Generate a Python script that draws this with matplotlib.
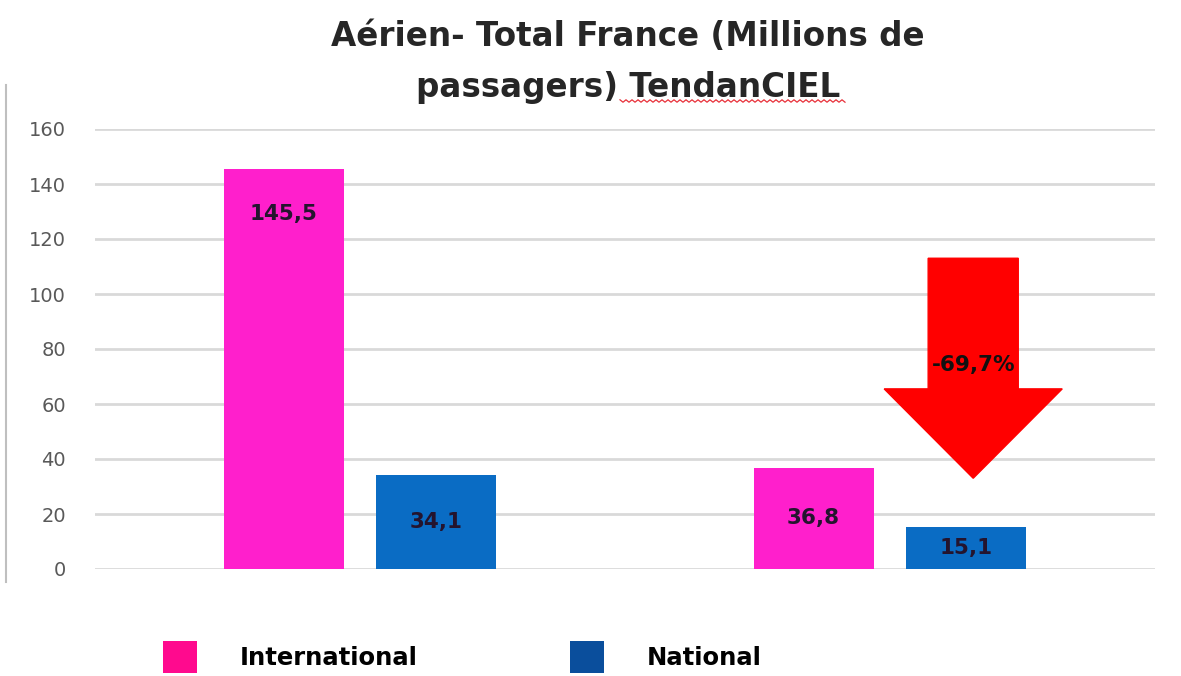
import numpy as np
import matplotlib
matplotlib.use("Agg")
import matplotlib.pyplot as plt
from matplotlib.patches import Patch, Polygon
from matplotlib.lines import Line2D

# ---- data ----
groups = ["2019", "2020"]
series = ["International", "National"]
international = [145.5, 36.8]
national = [34.1, 15.1]
value_labels_intl = ["145,5", "36,8"]
value_labels_nat = ["34,1", "15,1"]
change_label = "-69,7%"
yticks = [0, 20, 40, 60, 80, 100, 120, 140, 160]
title = "Aérien- Total France (Millions de\npassagers) TendanCIEL"

bar_colors = ["#FF1FCC", "#0A6CC4"]
legend_colors = ["#FF0A8E", "#0A4E9C"]

plt.rcParams["font.family"] = ["DejaVu Sans"]

fig = plt.figure(figsize=(11.81, 6.76), dpi=100)
ax = fig.add_axes([95 / 1181, 107 / 676, 1060 / 1181, 440 / 676])

x = np.arange(len(groups))
w = 0.226
off = 0.144
b1 = ax.bar(x - off, international, w, color=bar_colors[0], zorder=3)
b2 = ax.bar(x + off, national, w, color=bar_colors[1], zorder=3)

def lab_y(v):
    return v - 16.5 if v > 100 else v / 2

for bars, vals, labs in [(b1, international, value_labels_intl), (b2, national, value_labels_nat)]:
    for r, v, t in zip(bars, vals, labs):
        ax.text(r.get_x() + r.get_width() / 2, lab_y(v), t, ha="center", va="center",
                fontsize=15.5, fontweight="bold", color="#24142E", zorder=5)

ax.set_xlim(-0.5, 1.5)
ax.set_ylim(0, 160)
ax.set_yticks(yticks)
ax.set_yticklabels([str(t) for t in yticks], fontsize=14, color="#595959")
ax.tick_params(axis="y", length=0, pad=21)
ax.set_xticks([])
ax.grid(axis="y", color="#D9D9D9", linewidth=2, zorder=0)
for s in ax.spines.values():
    s.set_visible(False)

# red down arrow (annotation shape)
cx = 1.157
shaft_hw, head_hw = 0.085, 0.168
top, head_base, tip = 113, 65.5, 33
arrow = Polygon([(cx - shaft_hw, top), (cx + shaft_hw, top), (cx + shaft_hw, head_base),
                 (cx + head_hw, head_base), (cx, tip), (cx - head_hw, head_base),
                 (cx - shaft_hw, head_base)], closed=True, color="#FF0000", zorder=4,
                clip_on=False)
ax.add_patch(arrow)
ax.text(cx, 74, change_label, ha="center", va="center", fontsize=15.5, fontweight="bold",
        color="#111111", zorder=6)

# title
fig.text(628 / 1181, 1 - 62 / 676, title, ha="center", va="center", fontsize=23.5,
         fontweight="bold", color="#262626", linespacing=1.68)
# spell-check squiggle under "TendanCIEL"
xs = np.arange(620, 846, 3)
ys = 101 + np.where(np.arange(len(xs)) % 2 == 0, -1.2, 1.2)
fig.add_artist(Line2D(xs / 1181, 1 - ys / 676, color="#E8303A", linewidth=0.9,
                      transform=fig.transFigure))

# left border line
fig.add_artist(Line2D([6 / 1181, 6 / 1181], [1 - 85 / 676, 1 - 582 / 676], color="#BFBFBF",
                      linewidth=1.5, transform=fig.transFigure))

# legend
handles = [Patch(facecolor=c, edgecolor="none") for c in legend_colors]
leg = fig.legend(handles, series, loc="center left", bbox_to_anchor=(141 / 1181, 1 - 657 / 676),
                 ncol=2, frameon=False, handlelength=1.4, handleheight=1.65,
                 handletextpad=1.77, columnspacing=6.25,
                 prop={"weight": "bold", "size": 17.5})

fig.savefig("out.png", dpi=100)
